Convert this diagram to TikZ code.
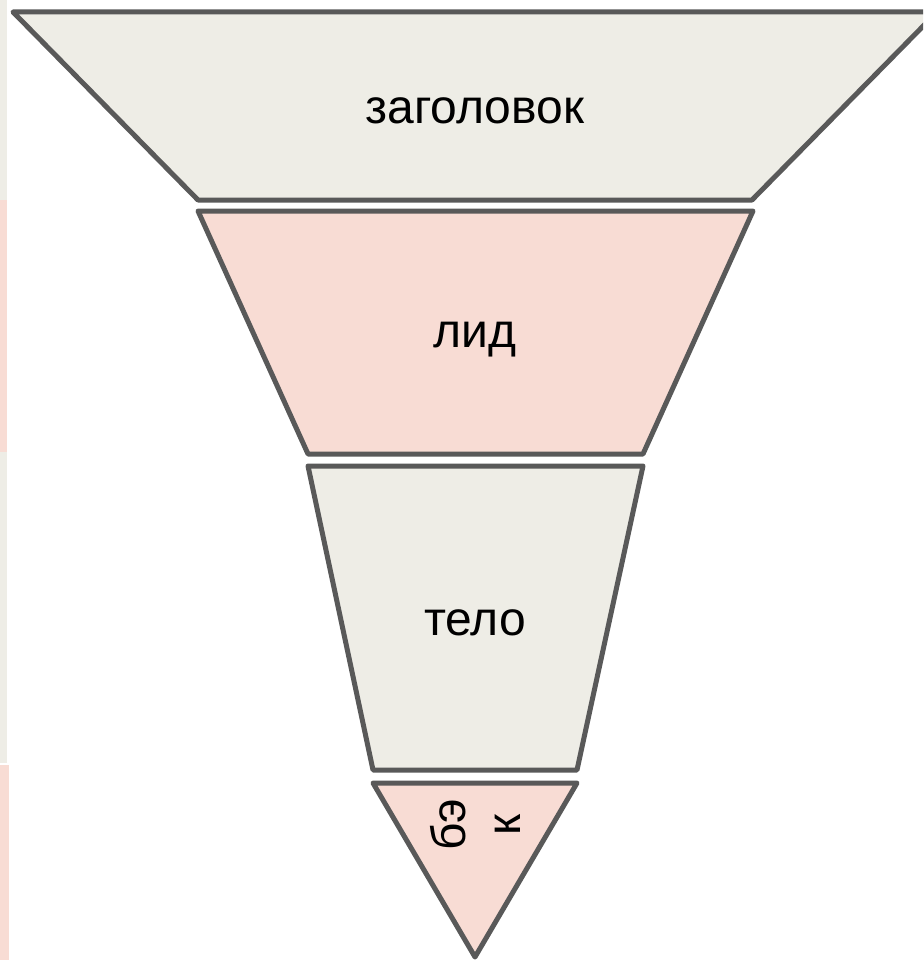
\documentclass[tikz,border=0pt]{standalone}
\usepackage{fontspec}
\setmainfont{Liberation Sans}
\definecolor{segbeige}{HTML}{EEEDE6}
\definecolor{segpink}{HTML}{F8DCD4}
\definecolor{segline}{HTML}{595959}
\begin{document}
\begin{tikzpicture}[x=1pt,y=-1pt,
  seg/.style={draw=segline, line width=5pt, line join=round},
  lbl/.style={font=\fontsize{48}{55}\selectfont, text=black, inner sep=0pt}]
\useasboundingbox (0,0) rectangle (923,960);
\clip (0,0) rectangle (923,960);
% left strips
\fill[segbeige] (0,0) rectangle (7,200);
\fill[segpink] (0,200) rectangle (7,452);
\fill[segbeige] (0,452) rectangle (7,763);
\fill[segpink] (0,765) rectangle (9,960);
% funnel segments
\draw[seg, fill=segbeige] (13,12) -- (937,12) -- (752,200) -- (198,200) -- cycle;
\draw[seg, fill=segpink] (198,211) -- (753,211) -- (643,454) -- (308,454) -- cycle;
\draw[seg, fill=segbeige] (308,466) -- (643,466) -- (577,770) -- (373,770) -- cycle;
\draw[seg, fill=segpink] (373,783) -- (577,783) -- (475,957) -- cycle;
% labels
\node[lbl, anchor=base] (t1) at (475,124) {заголовок};
\node[lbl, anchor=base] (t2) at (475,347) {лид};
\node[lbl, anchor=base] (t3) at (475,635) {тело};
\node[lbl, rotate=90, align=center] (t4) at (475,825) {бэ\\к};
\end{tikzpicture}
\end{document}
